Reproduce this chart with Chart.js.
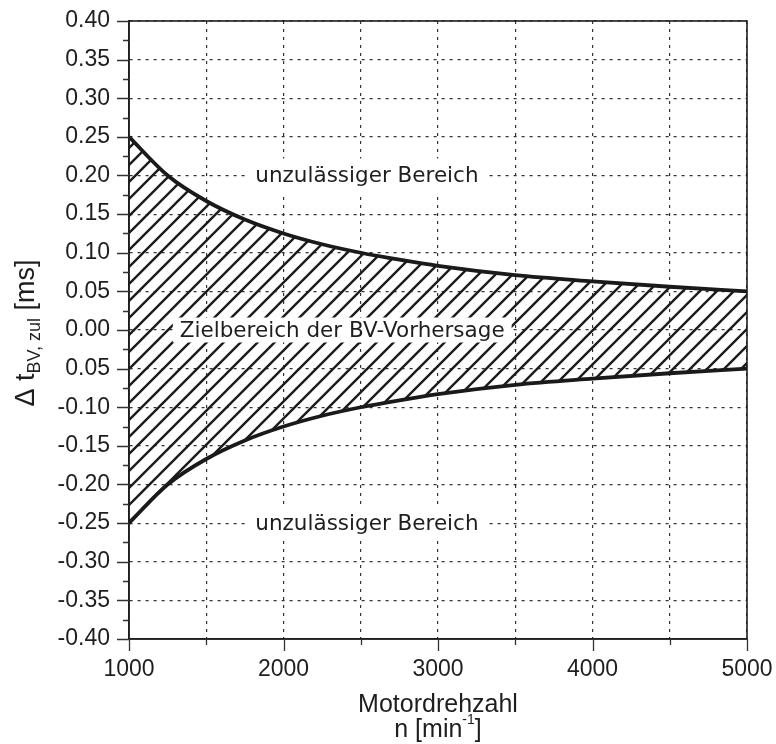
<!DOCTYPE html>
<html>
<head>
<meta charset="utf-8">
<script src="https://cdn.jsdelivr.net/npm/chart.js"></script>
<style>
  html, body { margin: 0; padding: 0; background: #fff; }
  canvas { display: block; }
</style>
</head>
<body>
<canvas id="chart" width="776" height="744"></canvas>
<script>
// Motordrehzahl n [min-1]
const drehzahl = [1000, 1250, 1500, 1750, 2000, 2250, 2500, 2750, 3000, 3500, 4000, 4500, 5000];
// zulaessige Abweichung Delta t_BV,zul [ms], obere und untere Grenze
const grenzeOben = [0.250, 0.200, 0.167, 0.143, 0.125, 0.111, 0.100, 0.091, 0.083, 0.071, 0.063, 0.056, 0.050];
const grenzeUnten = [-0.250, -0.200, -0.167, -0.143, -0.125, -0.111, -0.100, -0.091, -0.083, -0.071, -0.063, -0.056, -0.050];

// Achsenbeschriftung (so wie im Original, inkl. "0.05" unter der Null)
const yTickValues = [0.40, 0.35, 0.30, 0.25, 0.20, 0.15, 0.10, 0.05, 0.00, -0.05, -0.10, -0.15, -0.20, -0.25, -0.30, -0.35, -0.40];
const yTickLabels = ['0.40', '0.35', '0.30', '0.25', '0.20', '0.15', '0.10', '0.05', '0.00', '0.05', '-0.10', '-0.15', '-0.20', '-0.25', '-0.30', '-0.35', '-0.40'];
const xTickValues = [1000, 2000, 3000, 4000, 5000];
const xTickLabels = ['1000', '2000', '3000', '4000', '5000'];

// Texte im Diagramm
const bereichTexte = ['unzulässiger Bereich', 'Zielbereich der BV-Vorhersage', 'unzulässiger Bereich'];
const bereichN = [2540, 2380, 2540];
const bereichDt = [0.20, 0.00, -0.25];

const FONT = '"Liberation Sans", Arial, Helvetica, sans-serif';
const INK = '#1e1e1e';

function makeHatch() {
    const s = 17;
    const c = document.createElement('canvas');
    c.width = s; c.height = s;
    const g = c.getContext('2d');
    g.strokeStyle = '#1c1c1c';
    g.lineWidth = 2.4;
    g.beginPath();
    g.moveTo(0, s); g.lineTo(s, 0);
    g.moveTo(-3, 3); g.lineTo(3, -3);
    g.moveTo(s - 3, s + 3); g.lineTo(s + 3, s - 3);
    g.stroke();
    const p = g.createPattern(c, 'repeat');
    // Schraffur so verschieben, dass sie wie im Original liegt
    if (p.setTransform) p.setTransform(new DOMMatrix().translate(5, 0));
    return p;
}

const decor = {
    id: 'decor',
    afterDatasetsDraw(chart) {
        const ctx = chart.ctx;
        const a = chart.chartArea;
        const sx = chart.scales.x, sy = chart.scales.y;
        ctx.save();

        // Rahmen
        ctx.strokeStyle = INK;
        ctx.lineWidth = 1.6;
        ctx.strokeRect(a.left, a.top, a.right - a.left, a.bottom - a.top);

        // Teilstriche (lang = beschriftet, kurz = Zwischenwerte)
        ctx.strokeStyle = '#333';
        ctx.lineWidth = 1.3;
        ctx.beginPath();
        for (let v = -0.4; v <= 0.4001; v += 0.025) {
            const major = Math.abs(Math.round(v * 1000) % 50) === 0;
            const y = Math.round(sy.getPixelForValue(v)) + 0.5;
            ctx.moveTo(a.left - (major ? 12 : 6), y);
            ctx.lineTo(a.left, y);
        }
        for (let n = 1000; n <= 5000; n += 500) {
            const major = n % 1000 === 0;
            const x = Math.round(sx.getPixelForValue(n)) + 0.5;
            ctx.moveTo(x, a.bottom);
            ctx.lineTo(x, a.bottom + (major ? 12 : 6));
        }
        ctx.stroke();

        // Bereichstexte mit weissem Hintergrund
        ctx.font = '21.5px "DejaVu Sans", Verdana, sans-serif';
        ctx.textAlign = 'center';
        ctx.textBaseline = 'middle';
        bereichTexte.forEach((t, i) => {
            const x = sx.getPixelForValue(bereichN[i]);
            const y = sy.getPixelForValue(bereichDt[i]);
            const w = ctx.measureText(t).width;
            const h = i === 1 ? 25 : 34;
            ctx.fillStyle = '#fff';
            ctx.fillRect(x - w / 2 - 7, y - h / 2, w + 14, h);
            ctx.fillStyle = INK;
            ctx.fillText(t, x, y + 1);
        });
        ctx.restore();
    },
    afterDraw(chart) {
        const ctx = chart.ctx;
        const a = chart.chartArea;
        ctx.save();
        ctx.fillStyle = INK;
        ctx.textBaseline = 'alphabetic';

        // y-Achsentitel: Δ t_BV,zul [ms]
        const parts = [
            { t: 'Δ t', f: '27px ' + FONT, dy: 0 },
            { t: 'BV, zul', f: '18px ' + FONT, dy: 6 },
            { t: ' [ms]', f: '27px ' + FONT, dy: 0 }
        ];
        let total = 0;
        parts.forEach(p => { ctx.font = p.f; p.w = ctx.measureText(p.t).width; total += p.w; });
        ctx.translate(34, 333);
        ctx.rotate(-Math.PI / 2);
        let px = -total / 2;
        ctx.textAlign = 'left';
        parts.forEach(p => { ctx.font = p.f; ctx.fillText(p.t, px, p.dy); px += p.w; });
        ctx.setTransform(1, 0, 0, 1, 0, 0);

        // x-Achsentitel
        const cx = (a.left + a.right) / 2;
        ctx.textAlign = 'center';
        ctx.font = '25px ' + FONT;
        ctx.fillText('Motordrehzahl', cx, 712);

        const l2 = [
            { t: 'n [min', f: '25px ' + FONT, dy: 0 },
            { t: '-1', f: '14px ' + FONT, dy: -13 },
            { t: ']', f: '25px ' + FONT, dy: 0 }
        ];
        total = 0;
        l2.forEach(p => { ctx.font = p.f; p.w = ctx.measureText(p.t).width; total += p.w; });
        px = cx - total / 2;
        ctx.textAlign = 'left';
        l2.forEach(p => { ctx.font = p.f; ctx.fillText(p.t, px, 737 + p.dy); px += p.w; });
        ctx.restore();
    }
};

const ctx = document.getElementById('chart').getContext('2d');
new Chart(ctx, {
    type: 'line',
    data: {
        datasets: [{
            data: drehzahl.map((n, i) => ({ x: n, y: grenzeOben[i] })),
            borderColor: '#1a1a1a',
            borderWidth: 3.8,
            pointRadius: 0,
            cubicInterpolationMode: 'monotone',
            fill: '+1',
            backgroundColor: makeHatch()
        }, {
            data: drehzahl.map((n, i) => ({ x: n, y: grenzeUnten[i] })),
            borderColor: '#1a1a1a',
            borderWidth: 3.8,
            pointRadius: 0,
            cubicInterpolationMode: 'monotone',
            fill: false
        }]
    },
    options: {
        responsive: false,
        animation: false,
        devicePixelRatio: 1,
        layout: { padding: { top: 21, right: 29, left: 0, bottom: 0 } },
        plugins: { legend: { display: false }, tooltip: { enabled: false } },
        scales: {
            x: {
                type: 'linear',
                min: 1000, max: 5000,
                afterFit: s => { s.height = 105; s.paddingLeft = 0; s.paddingRight = 0; },
                ticks: {
                    stepSize: 500, autoSkip: false, maxRotation: 0, padding: 17,
                    color: INK, font: { family: FONT, size: 23 },
                    callback: v => {
                        const i = xTickValues.indexOf(v);
                        return i >= 0 ? xTickLabels[i] : '';
                    }
                },
                grid: { color: '#333', lineWidth: 1.2, drawTicks: false },
                border: { display: true, color: INK, width: 1.6, dash: [3, 5] }
            },
            y: {
                type: 'linear',
                min: -0.4, max: 0.4,
                afterFit: s => { s.width = 129; s.paddingTop = 0; s.paddingBottom = 0; },
                ticks: {
                    stepSize: 0.05, padding: 19,
                    color: INK, font: { family: FONT, size: 23 },
                    callback: v => {
                        const i = yTickValues.findIndex(t => Math.abs(t - v) < 1e-6);
                        return i >= 0 ? yTickLabels[i] : '';
                    }
                },
                grid: { color: '#333', lineWidth: 1.2, drawTicks: false },
                border: { display: true, color: INK, width: 1.6, dash: [3, 5] }
            }
        }
    },
    plugins: [decor]
});
</script>
</body>
</html>
